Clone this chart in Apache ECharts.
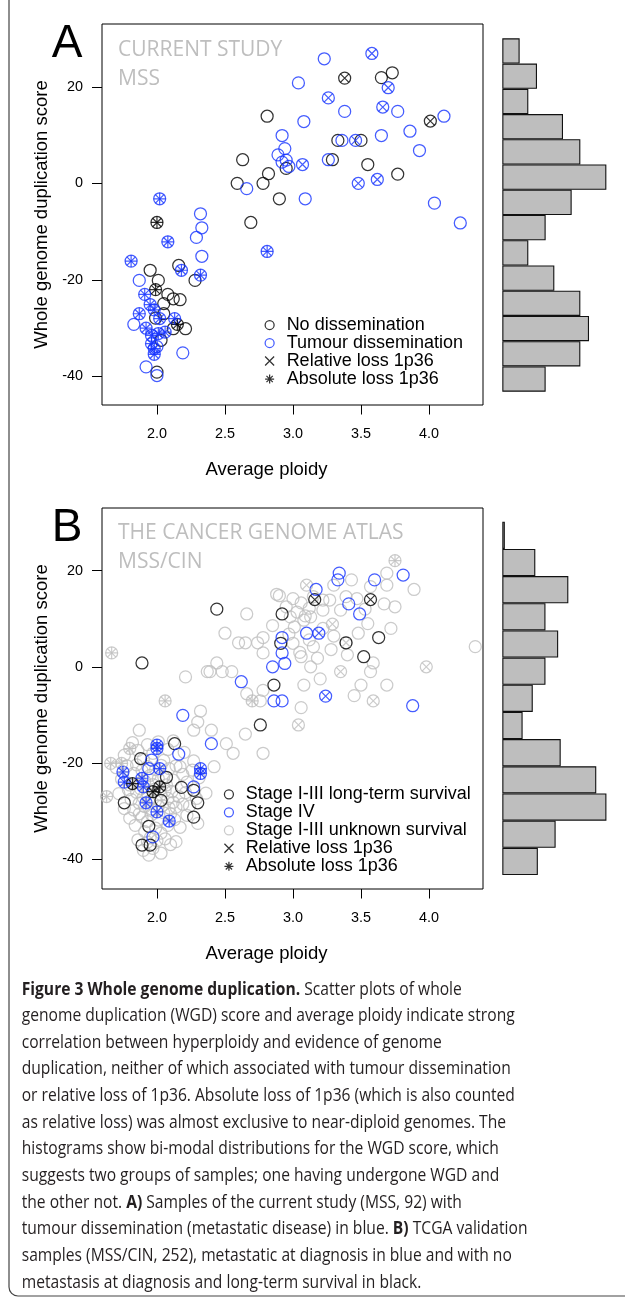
<!DOCTYPE html>
<html><head><meta charset="utf-8">
<script src="https://cdn.jsdelivr.net/npm/echarts@6/dist/echarts.min.js"></script>
<style>html,body{margin:0;padding:0;background:#fff}#c{width:625px;height:1301px}</style>
</head><body><div id="c"></div>
<script>
// ================= Panel A: current study (MSS, 92) =================
// loss codes: 0 = none, 1 = relative loss 1p36, 2 = absolute loss 1p36
// No dissemination (black)
const ndPloidy = [2.81,2.63,2.82,2.95,2.59,2.78,2.90,3.38,3.65,3.73,4.01,3.33,3.50,3.29,3.55,3.77,
  2.00,2.69,1.95,2.16,2.01,2.28,1.99,2.08,2.12,2.17,2.05,1.99,2.05,2.15,2.21,2.12,2.00,2.03];
const ndWgd = [13.9,4.9,2.0,3.1,0.0,0.0,-3.2,21.8,21.9,22.9,12.9,8.9,8.9,4.9,3.9,1.9,
  -8.1,-8.1,-18.0,-17.0,-20.1,-20.1,-22.0,-23.0,-23.9,-24.1,-24.9,-27.9,-27.0,-29.2,-30.1,-30.1,-39.1,-32.5];
const ndLoss = [0,0,0,0,0,0,0,1,0,0,1,0,0,0,0,0,
  2,0,0,0,0,0,2,0,0,0,0,0,0,2,0,0,0,0];
// Tumour dissemination (blue)
const tdPloidy = [2.92,2.89,2.94,2.95,2.66,2.02,3.23,3.58,3.70,3.04,3.26,3.66,3.77,3.38,4.11,3.08,3.86,
  3.36,3.46,3.65,3.93,3.07,3.26,3.62,3.48,3.09,4.04,4.23,2.32,2.33,2.29,2.08,2.33,2.81,1.81,
  2.18,1.87,2.32,1.91,1.95,1.87,2.02,2.13,1.83,1.92,2.01,1.96,1.98,1.98,2.19,1.92,2.00,
  2.92,2.97,1.98,1.96,2.00,2.06];
const tdWgd = [9.9,5.9,7.2,4.8,-1.1,-3.2,25.8,26.9,19.8,20.8,17.7,15.8,14.9,14.9,13.9,12.8,10.8,
  8.9,8.9,9.9,6.8,3.9,4.9,0.8,0.0,-3.2,-4.1,-8.2,-6.3,-9.2,-11.2,-12.1,-15.1,-14.1,-16.1,
  -18.0,-20.1,-19.0,-23.0,-25.1,-27.0,-28.0,-28.0,-29.2,-30.0,-31.1,-33.2,-34.2,-35.4,-35.1,-38.0,-39.8,
  4.4,3.5,-26.2,-31.5,-33.8,-30.8];
const tdLoss = [0,0,0,0,0,2,0,1,1,0,1,1,0,0,0,0,0,
  0,1,0,0,1,0,1,1,0,0,0,0,0,0,2,0,2,2,
  2,0,2,2,2,2,2,2,0,2,2,2,2,2,0,0,0,
  0,0,2,2,0,2];
const aHistBins = ['25 to 30','20 to 25','15 to 20','10 to 15','5 to 10','0 to 5','-5 to 0','-10 to -5','-15 to -10','-20 to -15','-25 to -20','-30 to -25','-35 to -30','-40 to -35'];
const aHistCounts = [2,4,3,7,9,12,8,5,3,6,9,10,9,5];

// ================= Panel B: TCGA (MSS/CIN, 252) =================
// Stage I-III long-term survival (black)
const ltPloidy = [1.89,2.44,2.92,2.91,2.86,3.16,3.57,3.63,3.39,3.52,2.76,2.13,1.88,1.82,2.07,1.97,2.02,2.18,2.27,2.30,1.76,2.03,2.27,1.94,1.89,1.95];
const ltWgd = [0.8,12.0,11.0,4.9,-3.8,14.0,14.0,6.1,5.0,2.1,-12.1,-16.0,-19.1,-24.3,-23.0,-26.0,-25.0,-25.1,-25.7,-28.3,-28.3,-27.8,-31.3,-33.2,-37.1,-37.1];
const ltLoss = [0,0,0,0,0,1,1,0,0,0,0,0,0,2,0,2,2,0,0,0,0,0,0,0,0,0];
// Stage IV (blue)
const s4Ploidy = [2.92,2.92,2.94,2.85,2.62,3.81,3.34,3.33,3.60,3.17,3.41,3.49,3.10,3.19,3.24,3.88,2.92,2.86,2.19,2.40,2.16,2.00,2.00,1.96,1.75,1.76,1.94,2.02,1.89,2.32,2.32,1.90,2.27,1.92,2.00,2.09,1.97];
const s4Wgd = [6.1,2.9,0.7,0.0,-3.1,19.1,19.5,18.1,18.1,16.1,13.1,11.0,7.0,7.0,-6.1,-8.1,-7.1,-7.1,-10.1,-16.0,-18.2,-16.3,-17.0,-19.4,-21.9,-24.0,-21.2,-21.2,-23.2,-21.2,-22.2,-25.0,-25.0,-28.3,-30.2,-32.1,-35.4];
const s4Loss = [0,0,0,0,0,0,0,0,0,0,0,0,0,1,1,0,0,0,0,0,0,2,2,0,2,2,0,2,2,2,2,2,0,2,2,2,0];
// Stage I-III unknown survival (grey)
const unPloidy = [1.667,2.66,2.88,2.90,2.50,2.60,2.65,2.74,2.78,2.78,2.44,2.37,2.39,2.48,2.55,2.21,3.75,3.69,3.89,3.43,3.57,3.69,3.30,3.10,3.67,3.29,3.48,3.39,3.59,4.34,3.98,3.35,3.57,3.13,3.06,3.15,3.08,3.50,3.69,3.59,3.04,2.06,2.32,1.87,2.27,2.40,2.65,1.80,1.66,1.74,1.94,1.63,
  1.86,1.90,1.93,1.97,2.00,2.03,2.06,2.10,1.95,2.14,
  1.80,1.84,1.87,1.89,1.91,1.93,1.96,1.99,2.01,2.03,2.05,2.08,2.10,2.13,2.17,2.22,2.30,
  1.72,1.76,1.79,1.81,1.83,1.85,1.87,1.88,1.90,1.91,1.93,1.94,1.96,1.98,1.99,2.01,2.03,2.04,2.06,2.08,2.09,2.11,2.12,2.14,2.16,2.19,2.21,2.24,2.29,2.36,
  1.70,1.74,1.78,1.80,1.83,1.85,1.87,1.89,1.91,1.93,1.95,1.97,1.99,2.01,2.03,2.05,2.07,2.09,2.12,2.14,2.17,2.19,2.22,2.26,2.31,2.42,
  1.76,1.82,1.86,1.90,1.93,1.97,2.01,2.05,2.08,2.12,2.20,2.27,2.51,2.56,2.78,
  2.30,2.66,2.70,2.76,3.06,3.45,2.78,3.20,3.00,3.05,3.18,3.28,3.40,
  3.01,3.08,2.97,3.12,3.22,3.30,3.55,3.72,2.85,
  2.95,3.00,3.03,3.06,3.09,3.12,3.15,3.22,3.27,3.22,3.35,3.39,3.47,3.53,3.13,2.98,3.75];
const unWgd = [2.9,11.0,15.1,14.8,7.0,5.0,5.0,5.0,6.1,2.9,0.8,-1.0,-1.0,-1.0,-1.0,-2.1,22.1,19.5,16.1,18.1,16.7,17.0,17.0,17.0,13.1,8.9,7.0,5.0,0.8,4.2,0.0,-1.0,-1.0,0.0,2.1,4.2,-3.8,-3.8,-3.8,-7.1,-12.1,-7.1,-9.2,-13.2,-13.2,-13.2,-14.0,-17.0,-20.1,-20.1,-39.2,-27.0,
  -36.0,-38.2,-36.5,-37.8,-36.2,-38.8,-35.8,-37.0,-35.6,-36.4,
  -31.5,-33.0,-30.6,-31.3,-34.3,-32.2,-30.8,-33.6,-31.9,-34.6,-30.4,-33.0,-30.6,-31.8,-33.4,-30.9,-32.6,
  -26.4,-29.5,-25.6,-27.6,-29.8,-26.1,-28.4,-25.4,-27.2,-29.1,-26.3,-28.0,-29.6,-25.5,-27.9,-29.0,-26.6,-28.9,-25.8,-27.4,-29.4,-26.0,-28.2,-29.2,-27.0,-28.6,-26.2,-29.0,-27.4,-26.3,
  -21.0,-23.4,-20.6,-24.6,-22.2,-20.4,-24.2,-21.6,-23.8,-20.8,-22.6,-24.5,-21.4,-23.3,-20.5,-22.9,-24.6,-21.2,-23.6,-20.6,-20.8,-22.4,-24.0,-21.5,-23.1,-20.8,
  -18.4,-15.8,-17.4,-19.2,-16.2,-18.0,-15.6,-19.5,-17.2,-15.4,-17.8,-19.6,-16.0,-18.0,-18.0,
  -11.5,-5.6,-7.1,-7.1,-8.5,-6.0,-4.9,-2.5,4.9,3.0,1.8,3.6,2.5,
  8.3,9.7,6.8,5.6,8.0,6.4,9.0,8.0,8.6,
  12.5,14.2,11.4,13.3,10.6,12.2,14.6,13.9,13.9,11.8,11.8,14.6,14.2,12.0,10.4,10.4,12.5];
const unLoss = [2,0,0,0,0,0,0,0,0,0,0,0,0,0,0,0,2,0,0,0,0,0,0,1,0,1,0,1,0,0,1,1,0,0,0,0,0,0,0,1,1,2,0,0,0,0,0,2,2,2,0,2,
  0,0,0,0,0,0,0,0,0,0,
  0,0,0,0,0,0,0,0,0,0,0,0,0,0,0,0,0,
  0,0,0,0,0,0,0,0,0,0,0,0,0,0,0,0,0,0,0,0,0,0,0,0,0,0,0,0,0,0,
  0,0,0,0,0,0,0,0,0,0,0,0,0,0,0,0,0,0,0,0,0,0,0,0,0,0,
  0,0,0,0,0,0,0,0,0,0,0,0,0,0,0,
  0,0,2,0,0,0,0,0,0,0,0,0,0,
  0,0,0,0,0,0,0,0,0,
  0,0,0,0,0,0,0,0,0,0,0,0,0,0,0,0,0];
const bHistBins = ['20 to 25','15 to 20','10 to 15','5 to 10','0 to 5','-5 to 0','-10 to -5','-15 to -10','-20 to -15','-25 to -20','-30 to -25','-35 to -30','-40 to -35'];
const bHistCounts = [1,13,26,17,22,17,12,8,23,37,41,21,14];

const ploidyTicks = [2.0, 2.5, 3.0, 3.5, 4.0];
const wgdTicks = [-40, -20, 0, 20];
</script>
<script>
const BLACK = '#000000', BLUE = '#1533ff', GREY = '#bebebe';
const FONT = '"Liberation Sans", Arial, sans-serif';
const SYM_X = 'path://M0,0L10,10M10,0L0,10';
const SYM_PLUS = 'path://M5,0L5,10M0,5L10,5';
const SYM_AST = 'path://M1.5,1.5L8.5,8.5M8.5,1.5L1.5,8.5M5,0L5,10M0,5L10,5';
const CIRC = 12, XS = 8.5, PS = 12;

const pairs = (xs, ys) => xs.map((x, i) => [x, ys[i]]);
function marks(groups, minLoss) {
  const d = [];
  groups.forEach(g => g.x.forEach((x, i) => {
    if (g.loss[i] >= minLoss) d.push({value: [x, g.y[i]], itemStyle: {borderColor: g.col}});
  }));
  return d;
}
function circSeries(name, data, col, gi) {
  return {name, type: 'scatter', xAxisIndex: gi, yAxisIndex: gi, data, symbol: 'circle', symbolSize: CIRC,
    itemStyle: {color: 'rgba(0,0,0,0)', borderColor: col, borderWidth: 1.25}, silent: true};
}
function markSeries(name, data, sym, size, gi) {
  return {name, type: 'scatter', xAxisIndex: gi, yAxisIndex: gi, data, symbol: sym, symbolSize: size,
    itemStyle: {color: 'none', borderColor: BLACK, borderWidth: 1.2}, silent: true};
}
const groupsA = [{x: ndPloidy, y: ndWgd, loss: ndLoss, col: BLACK}, {x: tdPloidy, y: tdWgd, loss: tdLoss, col: BLUE}];
const groupsB = [{x: unPloidy, y: unWgd, loss: unLoss, col: GREY}, {x: ltPloidy, y: ltWgd, loss: ltLoss, col: BLACK},
                 {x: s4Ploidy, y: s4Wgd, loss: s4Loss, col: BLUE}];

function scatterX(gi) {
  return {gridIndex: gi, type: 'value', min: 1.596, max: 4.397, splitLine: {show: false},
    axisLine: {show: false, onZero: false},
    axisTick: {show: true, customValues: ploidyTicks, length: 9.5, lineStyle: {color: BLACK, width: 1}},
    axisLabel: {customValues: ploidyTicks, formatter: v => v.toFixed(1), fontSize: 14.4, color: BLACK, fontFamily: FONT, margin: 22},
    name: 'Average ploidy', nameLocation: 'middle', nameGap: 55,
    nameTextStyle: {fontSize: 18.5, color: BLACK, fontFamily: FONT, padding: [0, 52, 0, 0]}};
}
function scatterY(gi, min, max) {
  return {gridIndex: gi, type: 'value', min, max, splitLine: {show: false}, axisLine: {show: false, onZero: false},
    axisTick: {show: true, customValues: wgdTicks, length: 10, lineStyle: {color: BLACK, width: 1}},
    axisLabel: {customValues: wgdTicks, fontSize: 14.4, color: BLACK, fontFamily: FONT, margin: 19},
    name: 'Whole genome duplication score', nameLocation: 'middle', nameRotate: 90, nameGap: 50,
    nameTextStyle: {fontSize: 18.5, color: BLACK, fontFamily: FONT}};
}
const histY = (gi, cats) => ({gridIndex: gi, type: 'category', data: cats, inverse: true, show: false});

const series = [
  circSeries('No dissemination', pairs(ndPloidy, ndWgd), BLACK, 0),
  circSeries('Tumour dissemination', pairs(tdPloidy, tdWgd), BLUE, 0),
  markSeries('Relative loss 1p36', marks(groupsA, 1), SYM_X, XS, 0),
  markSeries('Absolute loss 1p36', marks(groupsA, 2), SYM_PLUS, PS, 0),
  {type: 'bar', xAxisIndex: 1, yAxisIndex: 1, data: aHistCounts, barWidth: '100%', silent: true,
   itemStyle: {color: GREY, borderColor: '#111', borderWidth: 1.1}},
  circSeries('Stage I-III unknown survival', pairs(unPloidy, unWgd), GREY, 2),
  circSeries('Stage I-III long-term survival', pairs(ltPloidy, ltWgd), BLACK, 2),
  circSeries('Stage IV', pairs(s4Ploidy, s4Wgd), BLUE, 2),
  markSeries('Relative loss 1p36', marks(groupsB, 1), SYM_X, XS, 2),
  markSeries('Absolute loss 1p36', marks(groupsB, 2), SYM_PLUS, PS, 2),
  {type: 'bar', xAxisIndex: 3, yAxisIndex: 3, data: bHistCounts, barWidth: '100%', silent: true,
   itemStyle: {color: GREY, borderColor: '#111', borderWidth: 1.1}}
];

const legIcon = (name, icon, col) => ({name, icon,
  itemStyle: {color: 'rgba(0,0,0,0)', borderColor: col, borderWidth: 1.25}});
const legendText = {fontSize: 18, color: BLACK, fontFamily: FONT};

// caption
const captionLines = [
  '{b|Figure 3 Whole genome duplication.} Scatter plots of whole',
  'genome duplication (WGD) score and average ploidy indicate strong',
  'correlation between hyperploidy and evidence of genome',
  'duplication, neither of which associated with tumour dissemination',
  'or relative loss of 1p36. Absolute loss of 1p36 (which is also counted',
  'as relative loss) was almost exclusive to near-diploid genomes. The',
  'histograms show bi-modal distributions for the WGD score, which',
  'suggests two groups of samples; one having undergone WGD and',
  'the other not. {b|A)} Samples of the current study (MSS, 92) with',
  'tumour dissemination (metastatic disease) in blue. {b|B)} TCGA validation',
  'samples (MSS/CIN, 252), metastatic at diagnosis in blue and with no',
  'metastasis at diagnosis and long-term survival in black.'
];
const CAP_FONT = '"Open Sans", "Noto Sans", sans-serif', CAP_SIZE = 17.5, CAP_COL = '#231f20';
const cv = document.createElement('canvas').getContext('2d');
cv.font = CAP_SIZE + 'px ' + CAP_FONT;
const capScale = 493 / cv.measureText(captionLines[1]).width;

const graphics = [
  {type: 'rect', shape: {x: 9, y: -20, width: 640, height: 1316, r: 9}, style: {fill: 'none', stroke: '#444', lineWidth: 1.2}, silent: true},
  {type: 'text', x: 67, y: 44, style: {text: 'A', fontSize: 46, fontFamily: FONT, fill: BLACK, align: 'center', verticalAlign: 'middle'}},
  {type: 'text', x: 67, y: 528, style: {text: 'B', fontSize: 46, fontFamily: FONT, fill: BLACK, align: 'center', verticalAlign: 'middle'}},
  {type: 'text', x: 118, y: 50, style: {text: 'CURRENT STUDY', fontSize: 21, fontFamily: CAP_FONT, fill: GREY, verticalAlign: 'middle'}},
  {type: 'text', x: 118, y: 79.5, style: {text: 'MSS', fontSize: 21, fontFamily: CAP_FONT, fill: GREY, verticalAlign: 'middle'}},
  {type: 'text', x: 118, y: 533.5, style: {text: 'THE CANCER GENOME ATLAS', fontSize: 21, fontFamily: CAP_FONT, fill: GREY, verticalAlign: 'middle'}},
  {type: 'text', x: 118, y: 562.5, style: {text: 'MSS/CIN', fontSize: 21, fontFamily: CAP_FONT, fill: GREY, verticalAlign: 'middle'}}
];
const capY = [990, 1016.3, 1042.7, 1069.3, 1096, 1122.7, 1149.3, 1176, 1202.7, 1229.3, 1256, 1282.7];
captionLines.forEach((t, i) => graphics.push({type: 'text', x: 21.7, y: capY[i], scaleX: capScale,
  style: {text: t, fontSize: CAP_SIZE, fontFamily: CAP_FONT, fill: CAP_COL, verticalAlign: 'middle',
    rich: {b: {fontWeight: 'bold', fontSize: CAP_SIZE, fontFamily: CAP_FONT, fill: CAP_COL}}}}));

const chart = echarts.init(document.getElementById('c'), null, {renderer: 'canvas'});
chart.setOption({
  animation: false,
  backgroundColor: '#fff',
  grid: [
    {left: 102, top: 24, width: 381, height: 381, show: true, borderColor: BLACK, borderWidth: 1},
    {left: 502.3, top: 38.3, width: 121.4, height: 353.4},
    {left: 102, top: 508, width: 381, height: 381, show: true, borderColor: BLACK, borderWidth: 1},
    {left: 502.3, top: 521.7, width: 121.9, height: 353.3}
  ],
  xAxis: [scatterX(0), {gridIndex: 1, type: 'value', min: 0, max: 14, show: false},
          scatterX(2), {gridIndex: 3, type: 'value', min: 0, max: 48, show: false}],
  yAxis: [scatterY(0, -45.9, 33), histY(1, aHistBins), scatterY(2, -46.25, 33.06), histY(3, bHistBins)],
  legend: [
    {orient: 'vertical', left: 264.5, top: 316, padding: 0, itemWidth: 9, itemHeight: 9, itemGap: 0, selectedMode: false,
     textStyle: Object.assign({lineHeight: 17.7, padding: [0, 0, 0, 7.5]}, legendText),
     data: [legIcon('No dissemination', 'circle', BLACK), legIcon('Tumour dissemination', 'circle', BLUE),
            legIcon('Relative loss 1p36', SYM_X, BLACK), legIcon('Absolute loss 1p36', SYM_AST, BLACK)]},
    {orient: 'vertical', left: 223.8, top: 785.3, padding: 0, itemWidth: 9, itemHeight: 9, itemGap: 0, selectedMode: false,
     textStyle: Object.assign({lineHeight: 17.3, padding: [0, 0, 0, 7.2]}, legendText),
     data: [legIcon('Stage I-III long-term survival', 'circle', BLACK), legIcon('Stage IV', 'circle', BLUE),
            legIcon('Stage I-III unknown survival', 'circle', GREY),
            legIcon('Relative loss 1p36', SYM_X, BLACK), legIcon('Absolute loss 1p36', SYM_AST, BLACK)]}
  ],
  graphic: graphics,
  series
});
</script></body></html>
